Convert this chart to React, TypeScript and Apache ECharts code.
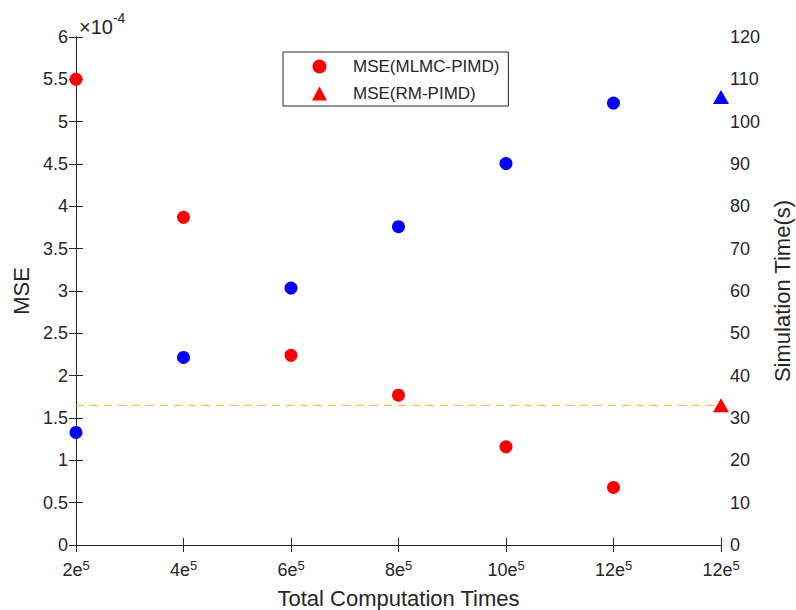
import React, { useEffect, useRef } from "react";
import * as echarts from "echarts";

const xTickLabels = ["2e5", "4e5", "6e5", "8e5", "10e5", "12e5", "12e5"];
const mseMLMC = [5.5, 3.87, 2.24, 1.77, 1.16, 0.68];
const mseRM = [1.65];
const timeMLMC = [26.6, 44.3, 60.7, 75.2, 90.1, 104.4];
const timeRM = [105.8];
const mseTicks = { min: 0, max: 6, interval: 0.5 };
const timeTicks = { min: 0, max: 120, interval: 10 };

const FONT = "Liberation Sans, Arial, Helvetica, sans-serif";
const AX = "#262626";

export default function App() {
  const ref = useRef<HTMLDivElement>(null);
  useEffect(() => {
    if (!ref.current) return;
    const chart = echarts.init(ref.current, null, { renderer: "svg" });
    const n = xTickLabels.length - 1;
    const xLabel = (v: number) => {
      const i = Math.round(v);
      const t = xTickLabels[i];
      if (t === undefined || Math.abs(v - i) > 1e-6) return "";
      const [m, e] = t.split("e");
      return `{b|${m}e}{s|${e}}`;
    };
    const mlmcIdx = mseMLMC.map((_, i) => i);
    const rmIdx = n;
    chart.setOption({
      animation: false,
      textStyle: { fontFamily: FONT },
      grid: { left: 76, right: 75, top: 37, bottom: 65, outerBoundsMode: "none", containLabel: false },
      legend: {
        data: [
          { name: "MSE(MLMC-PIMD)", icon: "circle" },
          { name: "MSE(RM-PIMD)", icon: "triangle" },
        ],
        orient: "vertical",
        left: 283,
        top: 52,
        padding: [6, 9, 4, 29],
        itemWidth: 15,
        itemHeight: 14,
        itemGap: 10,
        borderColor: AX,
        borderWidth: 1,
        borderRadius: 0,
        backgroundColor: "#fff",
        textStyle: { fontSize: 17, color: AX, fontFamily: FONT, lineHeight: 16, padding: [0, 0, 0, 21] },
      },
      xAxis: [
        {
          type: "value",
          min: 0,
          max: n,
          interval: 1,
          position: "bottom",
          name: "Total Computation Times",
          nameLocation: "middle",
          nameGap: 42,
          nameTextStyle: { fontSize: 22, color: AX, fontFamily: FONT },
          axisLine: { show: true, lineStyle: { color: AX, width: 1 } },
          axisTick: { show: true, inside: true, length: 7, lineStyle: { color: AX } },
          splitLine: { show: false },
          axisLabel: {
            show: true,
            margin: 14,
            color: AX,
            formatter: xLabel,
            rich: {
              b: { fontSize: 18, color: AX, fontFamily: FONT, lineHeight: 22 },
              s: { fontSize: 13, color: AX, fontFamily: FONT, verticalAlign: "top", lineHeight: 11 },
            },
          },
        },
        {
          type: "value",
          min: 0,
          max: n,
          interval: 1,
          position: "top",
          axisLine: { show: true, lineStyle: { color: AX, width: 1 } },
          axisTick: { show: true, inside: true, length: 7, lineStyle: { color: AX } },
          splitLine: { show: false },
          axisLabel: { show: false },
        },
      ],
      yAxis: [
        {
          type: "value",
          ...mseTicks,
          position: "left",
          name: "MSE",
          nameLocation: "middle",
          nameGap: 43,
          nameRotate: 90,
          nameTextStyle: { fontSize: 22, color: AX, fontFamily: FONT },
          axisLine: { show: true, lineStyle: { color: AX, width: 1 } },
          axisTick: { show: true, inside: true, length: 7, lineStyle: { color: AX } },
          splitLine: { show: false },
          axisLabel: { fontSize: 18, color: AX, margin: 8, fontFamily: FONT },
        },
        {
          type: "value",
          ...timeTicks,
          position: "right",
          name: "Simulation Time(s)",
          nameLocation: "middle",
          nameGap: 50,
          nameRotate: 90,
          nameTextStyle: { fontSize: 22, color: AX, fontFamily: FONT },
          axisLine: { show: true, lineStyle: { color: AX, width: 1 } },
          axisTick: { show: true, inside: true, length: 7, lineStyle: { color: AX } },
          splitLine: { show: false },
          axisLabel: { fontSize: 18, color: AX, margin: 9, fontFamily: FONT },
        },
      ],
      graphic: [
        {
          type: "text",
          left: 79,
          top: 11,
          style: {
            text: "{a|×10}{e|-4}",
            rich: {
              a: { fontSize: 20, fill: AX, fontFamily: FONT, lineHeight: 26, verticalAlign: "bottom" },
              e: { fontSize: 14, fill: AX, fontFamily: FONT, verticalAlign: "top", lineHeight: 14 },
            },
          },
        },
      ],
      series: [
        {
          name: "ref",
          type: "line",
          xAxisIndex: 0,
          yAxisIndex: 0,
          data: [
            [0, mseRM[0]],
            [n, mseRM[0]],
          ],
          symbol: "none",
          lineStyle: { color: "#EDB120", width: 1, type: [8, 6] },
          z: 1,
          silent: true,
        },
        {
          name: "MSE(MLMC-PIMD)",
          type: "scatter",
          xAxisIndex: 0,
          yAxisIndex: 0,
          symbol: "circle",
          symbolSize: 13,
          itemStyle: { color: "#FF0000", opacity: 1 },
          data: mseMLMC.map((v, i) => [mlmcIdx[i], v]),
          z: 3,
        },
        {
          name: "MSE(RM-PIMD)",
          type: "scatter",
          xAxisIndex: 0,
          yAxisIndex: 0,
          symbol: "triangle",
          symbolSize: [16, 14],
          itemStyle: { color: "#FF0000", opacity: 1 },
          data: mseRM.map((v) => [rmIdx, v]),
          z: 3,
        },
        {
          name: "Time(MLMC-PIMD)",
          type: "scatter",
          xAxisIndex: 0,
          yAxisIndex: 1,
          symbol: "circle",
          symbolSize: 13,
          itemStyle: { color: "#0000FF", opacity: 1 },
          data: timeMLMC.map((v, i) => [mlmcIdx[i], v]),
          z: 3,
        },
        {
          name: "Time(RM-PIMD)",
          type: "scatter",
          xAxisIndex: 0,
          yAxisIndex: 1,
          symbol: "triangle",
          symbolSize: [16, 14],
          itemStyle: { color: "#0000FF", opacity: 1 },
          data: timeRM.map((v) => [rmIdx, v]),
          z: 3,
        },
      ],
    });
    return () => chart.dispose();
  }, []);
  return (
    <div
      ref={ref}
      style={{ position: "absolute", left: 0, top: 0, width: 796, height: 610 }}
    />
  );
}
